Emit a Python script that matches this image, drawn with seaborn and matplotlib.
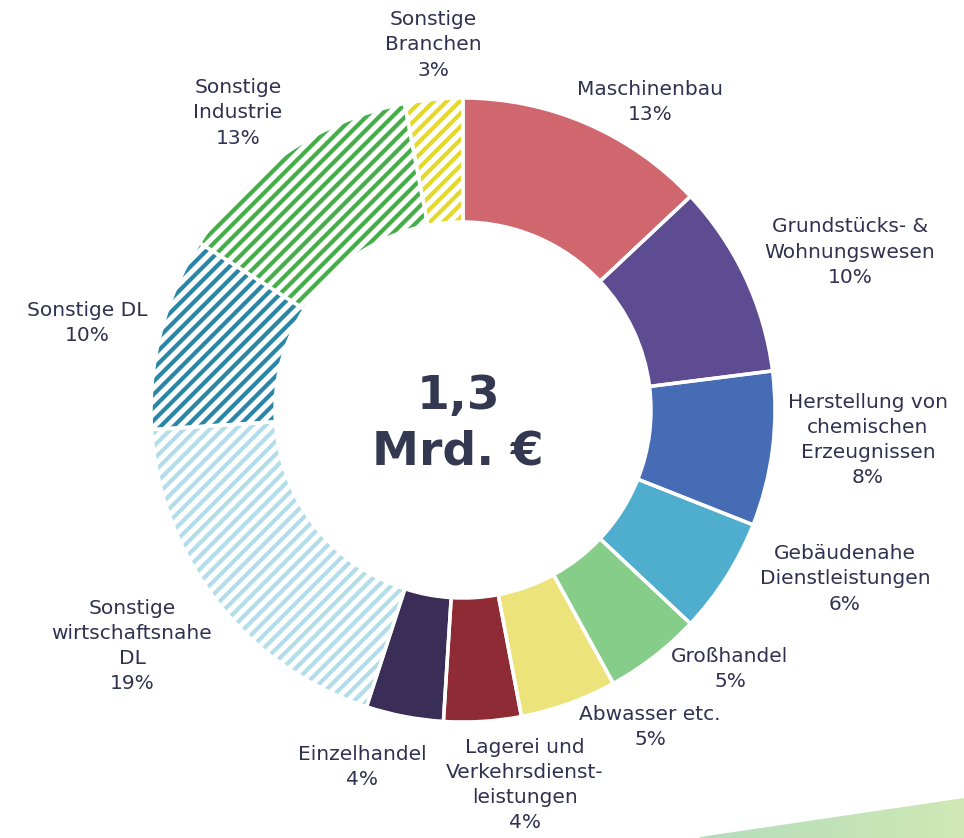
import seaborn as sns
import matplotlib.pyplot as plt
import numpy as np
from matplotlib.patches import Polygon
from matplotlib.collections import LineCollection
from matplotlib.colors import LinearSegmentedColormap

# Daten
branchen = ["Maschinenbau", "Grundstücks- &\nWohnungswesen", "Herstellung von\nchemischen\nErzeugnissen",
            "Gebäudenahe\nDienstleistungen", "Großhandel", "Abwasser etc.",
            "Lagerei und\nVerkehrsdienst-\nleistungen", "Einzelhandel",
            "Sonstige\nwirtschaftsnahe\nDL", "Sonstige DL", "Sonstige\nIndustrie", "Sonstige\nBranchen"]
anteile = [13, 10, 8, 6, 5, 5, 4, 4, 19, 10, 13, 3]
farben = ["#D0676F", "#5E4C93", "#466CB6", "#4FADCD", "#87CD8A", "#ECE47A",
          "#8E2B34", "#3A2D57", "#B2DDE9", "#2A86A6", "#46AE48", "#E4D82A"]
schraffiert = [False] * 8 + [True] * 4
mitte_text = "1,3\nMrd. €"

sns.set_theme(style="white")
plt.rcParams['font.family'] = ['DejaVu Sans']
textfarbe = "#2E3250"

fig = plt.figure(figsize=(9.64, 8.38), dpi=100)
ax = fig.add_axes([0, 0, 1, 1])

cx, cy, r = 463, 428, 312
wedges, _ = ax.pie(anteile, colors=farben, startangle=90, counterclock=False,
                   radius=r, center=(cx, cy),
                   wedgeprops=dict(width=124, linewidth=0))

# Schraffur: diagonale Streifen, auf das Tortenstueck beschnitten
offs = np.arange(-2 * r, 2 * r, 13)
for w, f, h in zip(wedges, farben, schraffiert):
    if not h:
        continue
    w.set_facecolor("white")
    segs = [[(cx - r - 20, cy - r - 20 + c), (cx + r + 20, cy + r + 20 + c)] for c in offs]
    lc = LineCollection(segs, colors=f, linewidths=3.0, zorder=2)
    ax.add_collection(lc)
    lc.set_clip_path(w)

# weisse Trennlinien
ax.pie(anteile, startangle=90, counterclock=False, radius=r, center=(cx, cy),
       wedgeprops=dict(width=124, fill=False, edgecolor="white", linewidth=2.5, zorder=3))

# Beschriftungen (Position in Pixeln)
label_pos = [(650, 102), (850, 252), (868, 440), (845, 579), (730, 669), (650, 727),
             (525, 785), (362, 767), (132, 646), (87, 323), (238, 113), (433, 45)]
for name, wert, (x, y) in zip(branchen, anteile, label_pos):
    ax.text(x, 838 - y, f"{name}\n{wert}%", ha="center", va="center",
            fontsize=14.5, color=textfarbe, linespacing=1.42)

ax.text(458, 838 - 424, mitte_text, ha="center", va="center", fontsize=34,
        fontweight="bold", color="#343851", linespacing=1.3)

# Deko-Verlauf unten rechts
grad = np.linspace(0, 1, 256).reshape(1, -1)
cmap = LinearSegmentedColormap.from_list("g", ["#B4DDBB", "#CFE8B5"])
img = ax.imshow(grad, extent=(700, 964, 0, 45), cmap=cmap, aspect="auto", zorder=0)
poly = Polygon([(700, 0), (964, 0), (964, 40), (700, 1)], transform=ax.transData)
img.set_clip_path(poly)

ax.set_xlim(0, 964)
ax.set_ylim(0, 838)
ax.set_aspect("equal")
ax.axis("off")

fig.savefig("out.png", dpi=100)
